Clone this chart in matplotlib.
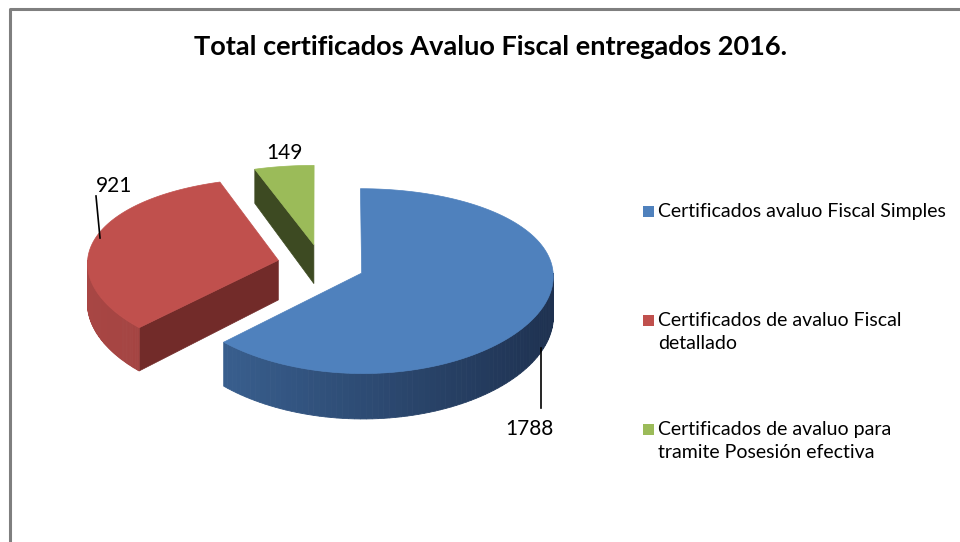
import numpy as np
import matplotlib
matplotlib.use("Agg")
import matplotlib.pyplot as plt
from matplotlib.patches import Polygon
from matplotlib.colors import to_rgb

title = "Total certificados Avaluo Fiscal entregados 2016."
categories = ["Certificados avaluo Fiscal Simples",
              "Certificados de avaluo Fiscal\ndetallado",
              "Certificados de avaluo para\ntramite Posesión efectiva"]
values = [1788, 921, 149]
top_colors = ["#4F81BD", "#C0504D", "#9BBB59"]
wall_left = ["#3D6698", "#A84644", "#6E8A3A"]
wall_right = ["#1E3150", "#8E3A38", "#5A7030"]
cut_colors = ["#2E4A70", "#722B29", "#3D4A22"]

W, H = 960, 542
fig = plt.figure(figsize=(W / 100, H / 100), dpi=100)
ax = fig.add_axes([0, 0, 1, 1])
ax.set_xlim(0, W)
ax.set_ylim(H, 0)
ax.axis("off")

# border
ax.plot([10, 10, W + 5], [H + 5, 9, 9], color="#7F7F7F", lw=2.2, solid_capstyle="butt")

# projection parameters
cx, cy = 321, 265
rx = 191
explode = 0.23


def proj(u, v, z):
    x = cx + rx * u * (1 + 0.03 * v)
    y = cy + 91 * v + 8 * v * v + z * (40 + 5 * v)
    return x, y


total = sum(values)
fr = np.array(values) / total
starts = np.concatenate([[0], np.cumsum(fr)[:-1]]) * 360
ends = np.cumsum(fr) * 360


def slice_geom(i):
    a0, a1 = np.radians(starts[i]), np.radians(ends[i])
    mid = (a0 + a1) / 2
    ou, ov = explode * np.sin(mid), -explode * np.cos(mid)
    return a0, a1, ou, ov


def pt(ou, ov, r, th, z):
    return proj(ou + r * np.sin(th), ov - r * np.cos(th), z)


def lerp(c1, c2, t):
    a, b = np.array(to_rgb(c1)), np.array(to_rgb(c2))
    return tuple(a + (b - a) * t)


order = [2, 1, 0]  # back to front
for i in order:
    a0, a1, ou, ov = slice_geom(i)
    # cut faces
    for th, sign in [(a0, -1), (a1, 1)]:
        nv = sign * np.sin(th)
        if nv > 0.02:
            poly = [pt(ou, ov, 0, th, 0), pt(ou, ov, 1, th, 0),
                    pt(ou, ov, 1, th, 1), pt(ou, ov, 0, th, 1)]
            ax.add_patch(Polygon(poly, closed=True, fc=cut_colors[i], ec=cut_colors[i], lw=0.5))
    # outer wall (front half only)
    lo, hi = max(a0, np.pi / 2), min(a1, 3 * np.pi / 2)
    if hi > lo:
        ths = np.linspace(lo, hi, 80)
        for k in range(len(ths) - 1):
            t0, t1 = ths[k], ths[k + 1]
            xm = np.sin((t0 + t1) / 2)
            col = lerp(wall_left[i], wall_right[i], (xm + 1) / 2)
            poly = [pt(ou, ov, 1, t0, 0), pt(ou, ov, 1, t1, 0),
                    pt(ou, ov, 1, t1, 1), pt(ou, ov, 1, t0, 1)]
            ax.add_patch(Polygon(poly, closed=True, fc=col, ec=col, lw=0.6))
    # top face
    ths = np.linspace(a0, a1, 120)
    poly = [pt(ou, ov, 0, a0, 0)] + [pt(ou, ov, 1, t, 0) for t in ths]
    ax.add_patch(Polygon(poly, closed=True, fc=top_colors[i], ec=top_colors[i], lw=0.5))

# data labels with leader lines
lab_font = dict(family="Lato", fontsize=15, color="#000000")
ax.plot([96, 100], [196, 238], color="black", lw=1.2)
ax.text(96, 196, f"{values[1]}", ha="left", va="bottom", **lab_font)
ax.text(284, 163, f"{values[2]}", ha="center", va="bottom", **lab_font)
ax.plot([541, 541], [348, 408], color="black", lw=1.2)
ax.text(529, 419, f"{values[0]}", ha="center", va="top", **lab_font)

ax.text(490, 47, title, ha="center", va="center", family="Lato",
        fontweight="bold", fontsize=19.5, color="black")

# legend
leg_y = [211, 320, 429]
for c, lab, y in zip(top_colors, categories, leg_y):
    ax.add_patch(Polygon([(643, y - 5), (654, y - 5), (654, y + 6), (643, y + 6)],
                         closed=True, fc=c, ec=c, lw=0))
    ax.text(658, y - 8, lab, ha="left", va="top", family="Lato",
            fontsize=14, color="#000000", linespacing=1.45)

fig.savefig("out.png", dpi=100)
